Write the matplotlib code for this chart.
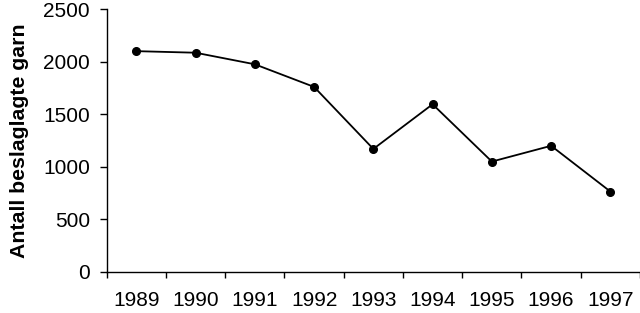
import matplotlib
matplotlib.use("Agg")
import matplotlib.pyplot as plt
import numpy as np

years = ["1989", "1990", "1991", "1992", "1993", "1994", "1995", "1996", "1997"]
garn = [2100, 2085, 1975, 1760, 1170, 1595, 1050, 1200, 765]

plt.rcParams['font.family'] = ['Liberation Sans', 'DejaVu Sans']

fig = plt.figure(figsize=(6.4, 3.13), dpi=100)
ax = fig.add_axes([0.1667, 0.131, 0.8333, 0.84])

x = np.arange(len(years))
ax.plot(x, garn, color='black', lw=1.3, marker='o', ms=5.5, mfc='black', mec='black', clip_on=False)

ax.set_xlim(-0.5, len(years) - 0.5)
ax.set_ylim(0, 2500)
ax.set_yticks(np.arange(0, 2501, 500))
ax.set_xticks(np.arange(-0.5, len(years), 1.0))
ax.set_xticklabels([])
ax.set_xticks(x, minor=True)
ax.set_xticklabels(years, minor=True)
ax.tick_params(axis='x', which='major', direction='out', length=4.5, width=1, color='black')
ax.tick_params(axis='x', which='minor', length=0, pad=14, labelsize=15)
ax.tick_params(axis='y', direction='out', length=5, width=1, pad=7, labelsize=15)

for s in ['top', 'right']:
    ax.spines[s].set_visible(False)
for s in ['left', 'bottom']:
    ax.spines[s].set_linewidth(1)
    ax.spines[s].set_color('black')

ax.set_ylabel('Antall beslaglagte garn', fontsize=15.3, fontweight='bold', labelpad=10)

fig.savefig('out.png', dpi=100)
